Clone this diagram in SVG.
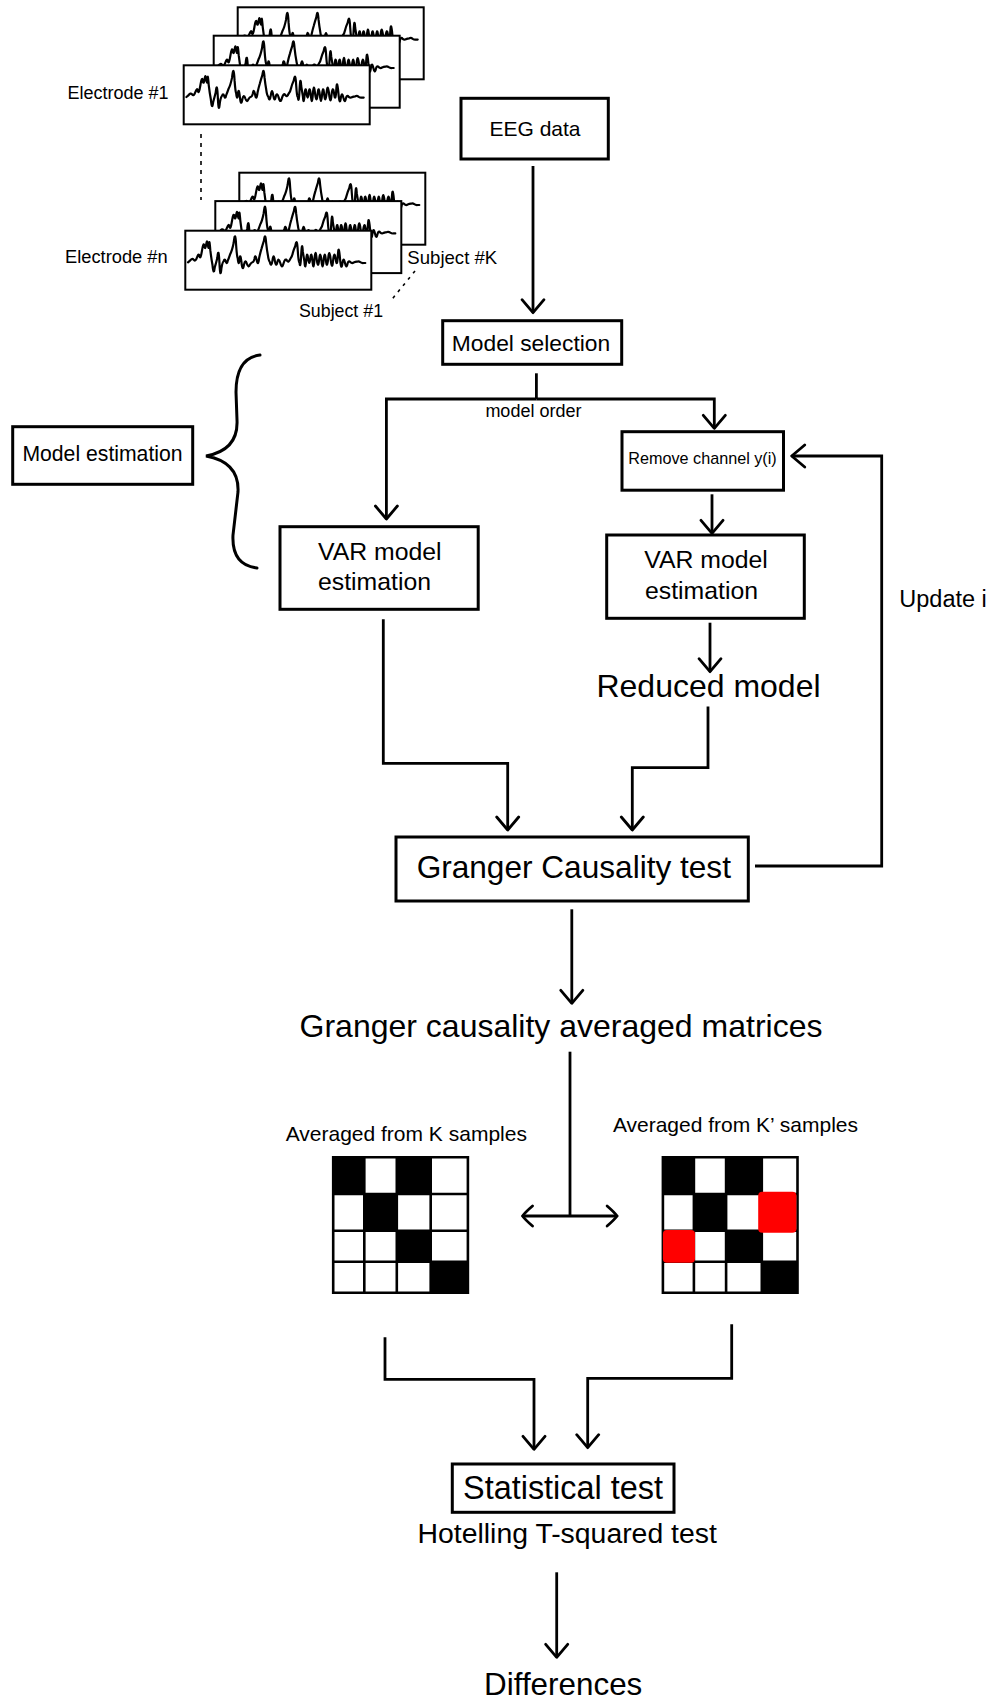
<svg xmlns="http://www.w3.org/2000/svg" xmlns:xlink="http://www.w3.org/1999/xlink" width="992" height="1702" viewBox="0 0 992 1702">
<style>
text{font-family:"Liberation Sans",Arial,Helvetica,sans-serif;fill:#000}
.box{fill:#fff;stroke:#000;stroke-width:3}
.panel{fill:#fff;stroke:#000;stroke-width:2}
.wave{fill:none;stroke:#000;stroke-width:2.2;stroke-linejoin:round;stroke-linecap:round}
.c{fill:none;stroke:#000;stroke-width:2.8}
.arr{marker-end:url(#ah)}
.dot{fill:none;stroke:#000;stroke-width:1.6}
.grid{fill:none;stroke:#000;stroke-width:2.6}
.blk{fill:#000}
.red{fill:#ff0000}
.mid{text-anchor:middle}
</style>
<defs>
<marker id="ah" viewBox="-16 -13 18 26" refX="0" refY="0" markerWidth="18" markerHeight="26" markerUnits="userSpaceOnUse" orient="auto-start-reverse">
<path d="M-13,-11 L0,0 L-13,11" fill="none" stroke="#000" stroke-width="2.8" stroke-linecap="round" stroke-linejoin="round"/>
</marker>
<marker id="ah2" viewBox="-14 -12 16 24" refX="0" refY="0" markerWidth="16" markerHeight="24" markerUnits="userSpaceOnUse" orient="auto-start-reverse">
<path d="M-10,-10 Q-3,-4 0,0 Q-3,4 -10,10" fill="none" stroke="#000" stroke-width="2.8" stroke-linecap="round"/>
</marker>
<path id="wave" class="wave" d="M2.7,31.7 L4.7,30 Q6.7,27.1 8.35,29 Q10,31.475 11.65,26.85 Q13.3,22 14.15,25.15 Q15,29.95 16.65,20.15 Q18.3,10.1 19.15,15.65 Q20,19.775 20.85,14 Q21.7,7.4 22.5,14 Q23.3,20.35 23.65,14.5 Q24,6.4 25,19.5 Q26,27.85 27.15,34 Q28.3,46.15 29.5,36.5 Q30.7,32.7 32,27.3 Q33.3,14.8 34.15,32.3 Q35,49.8 36.15,37.3 Q37.3,30.625 38.3,30.65 Q39.3,27.35 40.5,30.65 Q41.7,34.375 42.5,29.8 Q43.3,28.125 45,23.15 Q46.7,20.25 48.35,12.35 Q50,-2.2 50.85,14.85 Q51.7,26.5 52.5,28.15 Q53.3,36.025 54.15,29 Q55,21.15 56.15,31.5 Q57.3,41.85 58.65,34 Q60,27.8 61.65,33.2 Q63.3,37.8 64.65,34 Q66,31.85 67.15,31.5 Q68.3,31.55 69.15,28.2 Q70,22.8 71.35,29 Q72.7,36.45 73.85,27.3 Q75,21.875 76.15,18.15 Q77.3,14 78.65,9.85 Q80,0.3 80.85,12.35 Q81.7,19.825 82.5,24 Q83.3,30.25 84.65,31.5 Q86,37.325 87.15,29.85 Q88.3,21.55 89.5,29.85 Q90.7,37.325 92,31.5 Q93.3,26.075 95,32.35 Q96.7,39.05 98.35,32.35 Q100,26.9 101.65,29.85 Q103.3,32.375 105,28.2 Q106.7,26.125 107.5,22.35 Q108.3,19.15 110,15.35 Q111.7,5.55 112.5,20.35 Q113.3,32.075 114.15,31.5 Q115,39.825 115.85,24.85 Q116.7,8.625 117.5,20.7 Q118.3,25.7 119.15,30.7 Q120,41.125 120.85,29.85 Q121.7,19 122.85,28.15 Q124,36.45 125,28.15 Q126,19 127.15,29.85 Q128.3,41.975 129.15,29 Q130,16.025 131.35,28.15 Q132.7,39.425 133.85,29 Q135,18.575 136.15,29.85 Q137.3,41.55 138.3,29.85 Q139.3,18.575 140.5,29 Q141.7,39.425 142.85,28.15 Q144,16.2 145.35,28.65 Q146.7,40.925 147.85,29.5 Q149,19.175 150.35,28.15 Q151.7,37.7 152.5,25.65 Q153.3,11.5 154.65,27.35 Q156,41.55 157.15,32.35 Q158.3,25.65 159.65,32.35 Q161,38.625 162.15,33.2 Q163.3,29.05 165,31.5 Q166.7,32.95 168.35,31.8 Q170,31.2 171.65,31 Q173.3,30.15 175,31.5 Q176.7,32.7 178.35,32.3 L180,32.3"/>
<g id="stack">
<rect class="panel" x="54" y="0" width="186" height="72"/>
<use xlink:href="#wave" href="#wave" x="54" y="0"/>
<rect class="panel" x="30" y="28.4" width="186" height="72"/>
<use xlink:href="#wave" href="#wave" x="30" y="28.4"/>
<rect class="panel" x="0" y="58" width="186" height="59"/>
<use xlink:href="#wave" href="#wave" x="0" y="58"/>
</g>
</defs>
<rect width="992" height="1702" fill="#fff"/>

<g id="electrode1">
<use xlink:href="#stack" href="#stack" transform="translate(183.7,7.3)"/>
<text x="67.5" y="99.3" font-size="18">Electrode #1</text>
</g>
<g id="electrodeN">
<use xlink:href="#stack" href="#stack" transform="translate(185.3,172.7)"/>
<text x="65" y="263.3" font-size="18.3">Electrode #n</text>
<text x="407.3" y="264.3" font-size="18.6">Subject #K</text>
<text x="299" y="316.7" font-size="17.8">Subject #1</text>
</g>
<g id="dots">
<path class="dot" d="M201,134 V200" stroke-dasharray="4 5"/>
<path class="dot" d="M415,271 L390,301.7" stroke-dasharray="3 5"/>
</g>

<g id="eeg">
<rect class="box" x="461" y="98.3" width="147.3" height="60.7"/>
<text class="mid" x="535" y="136" font-size="21">EEG data</text>
</g>
<g id="modelsel">
<rect class="box" x="442.7" y="320.7" width="179" height="43.6"/>
<text class="mid" x="531" y="350.7" font-size="22.8">Model selection</text>
</g>
<g id="modelest">
<rect class="box" x="12.7" y="426.7" width="180" height="57.6"/>
<text class="mid" x="102.5" y="460.7" font-size="21.2">Model estimation</text>
</g>
<g id="brace">
<path d="M260,355 C244,357 236,370 236,392 L237,420 C238,440 228,452 206,456 C228,460 239,472 238,492 L233,535 C232,555 240,566 257,568" fill="none" stroke="#000" stroke-width="3" stroke-linecap="round"/>
</g>
<g id="remove">
<rect class="box" x="622" y="431.7" width="161.5" height="58.5"/>
<text class="mid" x="702.5" y="464" font-size="16.2">Remove channel y(i)</text>
</g>
<g id="varL">
<rect class="box" x="280" y="526.7" width="198.2" height="82.6"/>
<text x="318" y="560" font-size="24.8">VAR model</text>
<text x="318" y="590" font-size="24.8">estimation</text>
</g>
<g id="varR">
<rect class="box" x="606.7" y="535" width="197.6" height="83.3"/>
<text x="644.3" y="568.3" font-size="24.8">VAR model</text>
<text x="645" y="599.3" font-size="24.8">estimation</text>
</g>
<g id="reduced">
<text class="mid" x="708.5" y="696.7" font-size="32">Reduced model</text>
</g>
<g id="update">
<text x="899.3" y="606.7" font-size="23.5">Update i</text>
</g>
<g id="granger">
<rect class="box" x="396" y="837" width="352.3" height="64"/>
<text class="mid" x="573.8" y="878.3" font-size="31.6">Granger Causality test</text>
</g>
<g id="gcmat">
<text class="mid" x="561" y="1036.7" font-size="32">Granger causality averaged matrices</text>
</g>

<g id="matK">
<text x="285.7" y="1140.7" font-size="21">Averaged from K samples</text>
<rect x="333.2" y="1157.3" width="134.7" height="135.4" fill="#fff"/>
<rect class="blk" x="333.2" y="1157.3" width="31.1" height="36.7"/>
<rect class="blk" x="396.8" y="1157.3" width="33.9" height="36.7"/>
<rect class="blk" x="364.3" y="1194" width="32.5" height="36.7"/>
<rect class="blk" x="396.8" y="1230.7" width="33.9" height="31"/>
<rect class="blk" x="430.7" y="1261.7" width="37.2" height="31"/>
<path class="grid" d="M333.2,1157.3 H467.9 V1292.7 H333.2 Z M364.3,1157.3 V1292.7 M396.8,1157.3 V1292.7 M430.7,1157.3 V1292.7 M333.2,1194 H467.9 M333.2,1230.7 H467.9 M333.2,1261.7 H467.9"/>
</g>
<g id="matK2">
<text x="612.9" y="1131.7" font-size="21">Averaged from K’ samples</text>
<rect x="662.9" y="1157.3" width="134.6" height="135.4" fill="#fff"/>
<rect class="blk" x="662.9" y="1157.3" width="31" height="36.7"/>
<rect class="blk" x="726.1" y="1157.3" width="35.7" height="36.7"/>
<rect class="blk" x="693.9" y="1194" width="32.2" height="36.7"/>
<rect class="blk" x="726.1" y="1230.7" width="35.7" height="31"/>
<rect class="blk" x="761.8" y="1261.7" width="35.7" height="31"/>
<path class="grid" d="M662.9,1157.3 H797.5 V1292.7 H662.9 Z M693.9,1157.3 V1292.7 M726.1,1157.3 V1292.7 M761.8,1157.3 V1292.7 M662.9,1194 H797.5 M662.9,1230.7 H797.5 M662.9,1261.7 H797.5"/>
<rect class="red" x="758.2" y="1191.7" width="38.2" height="41" rx="4"/>
<rect class="red" x="662.9" y="1230" width="32.1" height="32.7" rx="4"/>
</g>

<g id="stat">
<rect class="box" x="452.3" y="1464" width="221.7" height="48.3"/>
<text class="mid" x="563" y="1499" font-size="32.4">Statistical test</text>
<text class="mid" x="567.2" y="1543.3" font-size="28.4">Hotelling T-squared test</text>
</g>
<g id="diff">
<text class="mid" x="563.2" y="1695" font-size="31.4">Differences</text>
</g>

<g id="connectors">
<path class="c arr" d="M533,166 V312.7"/>
<path class="c" d="M536.4,373.3 V399"/>
<path class="c arr" d="M536.4,399 H386.4 V519"/>
<path class="c arr" d="M536.4,399 H714.3 V428.3"/>
<text class="mid" x="533.4" y="417.3" font-size="18">model order</text>
<path class="c arr" d="M712,494.3 V533.3"/>
<path class="c arr" d="M710,622.7 V671.7"/>
<path class="c arr" d="M383.3,619.3 V763.3 H507.7 V830"/>
<path class="c arr" d="M708,706.5 V767.7 H632.3 V830"/>
<path class="c arr" d="M755,866 H881.7 V456 H791.7"/>
<path class="c arr" d="M571.8,909.3 V1003.3"/>
<path class="c" d="M570,1051.7 V1216"/>
<path class="c" d="M522.5,1216 H617.1" marker-start="url(#ah2)" marker-end="url(#ah2)"/>
<path class="c arr" d="M385,1337.3 V1379.3 H534 V1449.3"/>
<path class="c arr" d="M731.7,1324.3 V1378.3 H587.7 V1447.7"/>
<path class="c arr" d="M556.7,1572.3 V1657.3"/>
</g>
</svg>
